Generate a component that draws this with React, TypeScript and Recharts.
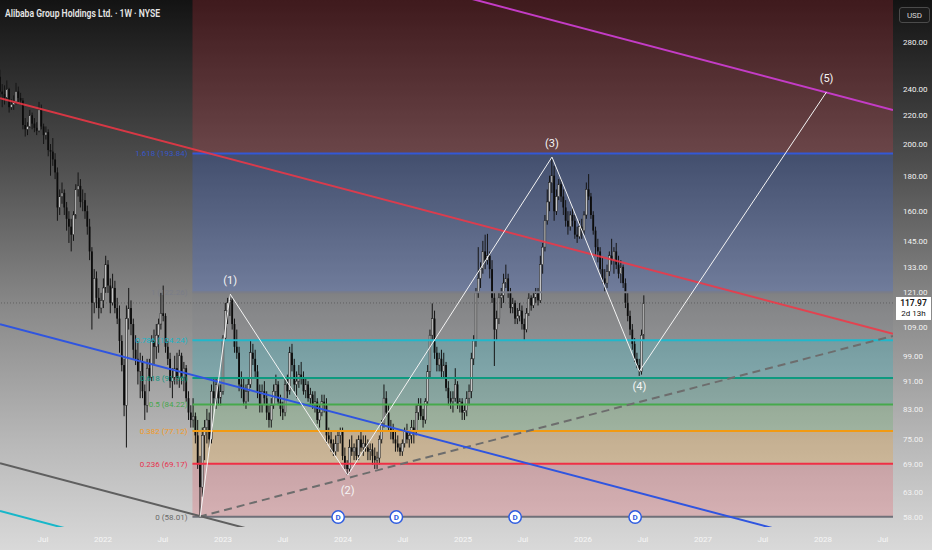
import React from "react";
import {
  ComposedChart,
  Bar,
  XAxis,
  YAxis,
  ReferenceArea,
  ReferenceLine,
  ReferenceDot,
} from "recharts";

// weekly candles, [open, high, low, close], first bar = week of 22 Feb 2021
type Candle = [number, number, number, number];

const firstWeek = 2021.1425;
const weekLength = 7 / 365.25;

const candles2021: Candle[] = [
  [250, 256, 232, 238], [238, 244, 226, 236], [236, 243, 228, 233], [233, 247, 232, 240],
  [240, 241, 222, 226], [226, 232, 224, 228], [228, 235, 224, 230], [230, 245, 228, 238],
  [238, 242, 230, 233], [233, 237, 228, 231], [231, 233, 210, 213], [213, 218, 205, 210],
  [210, 215, 206, 212], [212, 224, 211, 220], [220, 222, 210, 214], [214, 218, 208, 211],
  [211, 215, 206, 209], [209, 230, 208, 224], [224, 228, 210, 212], [212, 214, 200, 206],
  [206, 212, 203, 208], [208, 210, 192, 196], [196, 200, 180, 195], [195, 204, 186, 190],
  [190, 194, 178, 182], [182, 185, 155, 162], [162, 172, 158, 168], [168, 176, 164, 170],
  [170, 172, 158, 162], [162, 165, 150, 156], [156, 160, 144, 152], [152, 156, 140, 148],
  [148, 160, 145, 158], [158, 175, 156, 172], [172, 182, 168, 174], [174, 178, 162, 165],
  [165, 172, 160, 166], [166, 170, 156, 160], [160, 163, 148, 152], [152, 156, 136, 140],
  [140, 142, 108, 118], [118, 132, 114, 128], [128, 131, 116, 120], [120, 124, 112, 116],
  [116, 122, 114, 119],
];

const candles2022: Candle[] = [
  [119, 128, 116, 124], [124, 138, 122, 134], [134, 136, 122, 125], [125, 128, 114, 118],
  [118, 130, 117, 124], [124, 127, 114, 116], [116, 120, 110, 112], [112, 117, 100, 104],
  [104, 106, 94, 96], [96, 98, 81, 84], [84, 117, 73, 112], [112, 124, 108, 116],
  [116, 119, 106, 110], [110, 112, 98, 101], [101, 106, 96, 98], [98, 104, 90, 94],
  [94, 100, 86, 97], [97, 99, 86, 88], [88, 90, 80, 84], [84, 98, 82, 95],
  [95, 98, 88, 92], [92, 106, 91, 104], [104, 108, 96, 102], [102, 110, 98, 106],
  [106, 112, 100, 110], [110, 122, 108, 114], [114, 125, 111, 113], [113, 114, 100, 102],
  [102, 104, 96, 98], [98, 100, 89, 91], [91, 95, 86, 92], [92, 99, 90, 95],
  [95, 100, 90, 92], [92, 101, 89, 99], [99, 100, 90, 92], [92, 97, 88, 95],
  [95, 96, 85, 86], [86, 88, 80, 82], [82, 84, 78, 80], [80, 86, 78, 81],
  [81, 82, 74, 76], [76, 80, 68, 69], [69, 71, 58.01, 64], [64, 78, 62, 76],
  [76, 80, 70, 78], [78, 83, 74, 80], [80, 82, 73, 75], [75, 90, 74, 88],
  [88, 92, 84, 86], [86, 92, 83, 90], [90, 92, 84, 86], [86, 90, 84, 88],
];

const candles2023: Candle[] = [
  [88, 106, 87, 105], [105, 118, 104, 115], [115, 120, 110, 118], [118, 121.5, 113, 119],
  [119, 120, 108, 110], [110, 112, 100, 102], [102, 108, 98, 100], [100, 102, 88, 90],
  [90, 94, 86, 89], [89, 92, 84, 85], [85, 90, 83, 88], [88, 92, 85, 90],
  [90, 104, 89, 100], [100, 103, 96, 98], [98, 101, 92, 94], [94, 96, 86, 88],
  [88, 90, 82, 84], [84, 90, 82, 88], [88, 91, 84, 86], [86, 88, 80, 82],
  [82, 84, 78, 80], [80, 86, 78, 84], [84, 90, 83, 88], [88, 93, 86, 90],
  [90, 91, 84, 85], [85, 87, 81, 83], [83, 85, 80, 82], [82, 92, 81, 90],
  [90, 93, 86, 88], [88, 102, 87, 100], [100, 103, 94, 96], [96, 98, 88, 90],
  [90, 94, 86, 91], [91, 96, 89, 93], [93, 97, 90, 92], [92, 94, 87, 88],
  [88, 92, 86, 90], [90, 91, 85, 86], [86, 89, 84, 87], [87, 88, 83, 84],
  [84, 88, 82, 85], [85, 86, 79, 80], [80, 84, 78, 82], [82, 87, 81, 85],
  [85, 87, 82, 84], [84, 86, 74, 76], [76, 78, 74, 75], [75, 77, 72, 74],
  [74, 75, 71, 72], [72, 76, 71, 74], [74, 77, 72, 76], [76, 78, 74, 77],
];

const candles2024: Candle[] = [
  [77, 78, 70, 71], [71, 73, 68, 69], [69, 70, 66.6, 68], [68, 75, 67, 73],
  [73, 76, 71, 72], [72, 74, 70, 73], [73, 75, 70, 71], [71, 76, 70, 75],
  [75, 77, 72, 73], [73, 76, 71, 74], [74, 76, 72, 73], [73, 75, 70, 72],
  [72, 74, 70, 72.5], [72.5, 74, 69, 71], [71, 73, 68, 70], [70, 72, 68, 70.5],
  [70.5, 76, 69, 75], [75, 80, 74, 79], [79, 90, 78, 86], [86, 88, 81, 82],
  [82, 84, 77, 78], [78, 80, 75, 77], [77, 79, 74, 75], [75, 77, 72, 74],
  [74, 76, 72, 73], [73, 74, 71, 72], [72, 75, 71, 74], [74, 78, 73, 77],
  [77, 79, 74, 75], [75, 77, 73, 76], [76, 80, 74, 78], [78, 80, 74, 77],
  [77, 84, 76, 82], [82, 86, 80, 84], [84, 86, 80, 81], [81, 83, 78, 80],
  [80, 86, 79, 85], [85, 96, 84, 94], [94, 108, 92, 106], [106, 117.8, 104, 112],
  [112, 115, 98, 100], [100, 102, 94, 96], [96, 100, 94, 98], [98, 101, 92, 94],
  [94, 100, 92, 96], [96, 97, 88, 89], [89, 91, 84, 86], [86, 88, 83, 85],
  [85, 88, 82, 86], [86, 95, 85, 90], [90, 91, 83, 84], [84, 86, 82, 85],
];

const candles2025: Candle[] = [
  [85, 86, 80, 82], [82, 84, 80, 82.5], [82.5, 88, 81, 86], [86, 90, 84, 88],
  [88, 100, 86, 98], [98, 106, 96, 104], [104, 124, 102, 122], [122, 142, 120, 128],
  [128, 135, 124, 132], [132, 145, 130, 140], [140, 148, 132, 136], [136, 148.4, 134, 138],
  [138, 140, 128, 132], [132, 136, 118, 120], [120, 122, 95.7, 108], [108, 115, 104, 112],
  [112, 122, 110, 120], [120, 124, 116, 121], [121, 130, 118, 126], [126, 134, 124, 128],
  [128, 130, 120, 122], [122, 124, 114, 116], [116, 120, 114, 118], [118, 119, 110, 112],
  [112, 116, 110, 113], [113, 118, 111, 115], [115, 117, 108, 110], [110, 112, 104, 108],
  [108, 116, 107, 114], [114, 122, 113, 120], [120, 121, 115, 117], [117, 122, 116, 120],
  [120, 124, 118, 122], [122, 124, 117, 119], [119, 138, 118, 134], [134, 144, 130, 142],
  [142, 158, 140, 155], [155, 172, 153, 165], [165, 180, 160, 176], [176, 191.5, 170, 180],
  [180, 186, 155, 160], [160, 172, 158, 168], [168, 178, 166, 175], [175, 178, 165, 168],
  [168, 172, 158, 162], [162, 166, 152, 155], [155, 160, 148, 152], [152, 160, 150, 158],
  [158, 162, 152, 155], [155, 158, 146, 148], [148, 152, 144, 147], [147, 155, 146, 152],
];

const candles2026: Candle[] = [
  [152, 156, 146, 150], [150, 160, 148, 158], [158, 176, 156, 172], [172, 181, 166, 168],
  [168, 170, 156, 158], [158, 160, 148, 150], [150, 152, 138, 142], [142, 146, 135, 140],
  [140, 142, 130, 132], [132, 137, 126, 128], [128, 132, 122, 126], [126, 134, 124, 131],
  [131, 140, 129, 138], [138, 146, 134, 136], [136, 142, 130, 140], [140, 144, 132, 134],
  [134, 138, 128, 130], [130, 136, 126, 133], [133, 134, 124, 126], [126, 128, 116, 118],
  [118, 122, 111, 113], [113, 115, 106, 108], [108, 110, 101, 103], [103, 105, 97, 98],
  [98, 100, 95, 96], [96, 98, 92.6, 94], [94, 108, 93, 106], [106, 121, 104, 117.97],
];

const candles = [
  ...candles2021,
  ...candles2022,
  ...candles2023,
  ...candles2024,
  ...candles2025,
  ...candles2026,
];

// axes
const timeDomain = [2021.142, 2028.584];
const timeTicks = [
  2021.5, 2022, 2022.5, 2023, 2023.5, 2024, 2024.5, 2025, 2025.5, 2026, 2026.5, 2027, 2027.5,
  2028, 2028.5,
];
const priceDomain = [56.07, 322.6];
const priceTicks = [58, 63, 69, 75, 83, 91, 99, 109, 121, 133, 145, 160, 180, 200, 220, 240, 280];

// fib retracement (log), drawn from the Oct 2022 low
const fibStart = 2022.746;
const fibRatios = [0, 0.236, 0.382, 0.5, 0.618, 0.786, 1, 1.618];
const fibPrices = [58.01, 69.17, 77.12, 84.22, 91.96, 104.24, 122.26, 193.84];

// trend / channel lines, [time, price] end points
const redLine = [[2021.142, 232.8], [2028.584, 106.5]];
const blueLine = [[2021.142, 109.9], [2028.584, 50.28]];
const grayLine = [[2021.142, 69.27], [2028.584, 31.69]];
const cyanLine = [[2021.142, 59.12], [2028.584, 27.04]];
const magentaLine = [[2021.142, 489.4], [2028.584, 223.9]];
const dashedLine = [[2022.8, 58.01], [2028.584, 105.75]];

// elliott wave count
const waveTimes = [2022.81, 2023.06, 2024.04, 2025.742, 2026.47, 2028.03];
const wavePrices = [58.01, 121.5, 66.6, 191.5, 94, 237.7];
const waveLabels = ["", "(1)", "(2)", "(3)", "(4)", "(5)"];

const dividendTimes = [2023.96, 2024.445, 2025.435, 2026.435];

const fibColors = ["#787b86", "#f23645", "#ff9800", "#4caf50", "#089981", "#00bcd4", "#787b86", "#2962ff"];
const fibLineColors = ["#6f7079", "#ef2f45", "#f29a12", "#46a94c", "#0e9a80", "#1fb8cc", "#7a7d88", "#3358d6"];
const fibLabelColors = ["#6a6a6a", "#e8324e", "#f39a1e", "#45a84b", "#0d9680", "#19b4c8", "#7a7d88", "#3656c8"];

const lastClose = candles[candles.length - 1][3];

const data = candles.map(([o, h, l, c], i) => ({
  t: firstWeek + i * weekLength,
  wick: [l, h],
  body: [Math.min(o, c), Math.max(o, c)],
  up: c >= o,
}));

function Wick(props: any) {
  const { x, y, width, height } = props;
  if (x == null || Number.isNaN(x)) return null;
  return <rect x={x + width / 2 - 0.5} y={y} width={1} height={Math.max(height, 1)} fill="#151515" />;
}

function Body(props: any) {
  const { x, y, width, height, payload } = props;
  if (x == null || Number.isNaN(x)) return null;
  const up = payload?.up;
  return (
    <rect
      x={x + width / 2 - 0.9}
      y={y}
      width={1.8}
      height={Math.max(height, 1)}
      fill={up ? "#c6c6c6" : "#0c0c0c"}
      stroke={up ? "#1e1e1e" : "none"}
      strokeWidth={0.5}
    />
  );
}

function DividendMark(props: any) {
  const { cx, cy } = props;
  return (
    <g>
      <circle cx={cx} cy={cy} r={6.2} fill="#ffffff" stroke="#2f5de0" strokeWidth={1.5} />
      <text x={cx} y={cy + 3} textAnchor="middle" fontSize={8} fontWeight={700} fill="#2f5de0">
        D
      </text>
    </g>
  );
}

function PriceTag(props: any) {
  const { cx, cy } = props;
  return (
    <g>
      <rect x={cx + 3} y={cy - 6} width={35} height={23} fill="#ffffff" />
      <text x={cx + 20.5} y={cy + 3} textAnchor="middle" fontSize={8.5} fontWeight={600} fill="#131313">
        {lastClose.toFixed(2)}
      </text>
      <text x={cx + 20.5} y={cy + 13.5} textAnchor="middle" fontSize={8} fill="#131313">
        2d 13h
      </text>
    </g>
  );
}

// the 121 label sits just above the live price tag
function PriceTick(props: any) {
  const { x, y, payload } = props;
  const shift = payload.value === 121 ? -3.5 : 0;
  return (
    <text x={x} y={y + shift} dy="0.355em" fill="#f2f2f2" fontSize={8} textAnchor="start">
      {Number(payload.value).toFixed(2)}
    </text>
  );
}

function formatTime(v: number) {
  return Number.isInteger(v) ? String(v) : "Jul";
}

export default function App() {
  const xMax = timeDomain[1];
  return (
    <div
      style={{
        position: "absolute",
        left: 0,
        top: 0,
        width: 932,
        height: 550,
        background: "linear-gradient(to bottom, #131313 0%, #4a4a4a 28%, #878787 55%, #b7b7b7 80%, #d9d9d9 100%)",
        fontFamily: "Roboto, 'Noto Sans', sans-serif",
        overflow: "hidden",
      }}
    >
      <ComposedChart width={932} height={550} data={data} margin={{ top: 0, right: 0, bottom: 0, left: 0 }}>
        <XAxis
          dataKey="t"
          type="number"
          domain={timeDomain}
          allowDataOverflow
          ticks={timeTicks}
          interval={0}
          tickFormatter={formatTime}
          axisLine={false}
          tickLine={false}
          height={23}
          tickMargin={3}
          tick={{ fill: "#f6f6f6", fontSize: 8 }}
        />
        <XAxis xAxisId="wick" dataKey="t" type="number" domain={timeDomain} allowDataOverflow hide />
        <XAxis xAxisId="body" dataKey="t" type="number" domain={timeDomain} allowDataOverflow hide />
        <YAxis
          orientation="right"
          scale="log"
          domain={priceDomain}
          allowDataOverflow
          ticks={priceTicks}
          interval={0}
          width={39}
          axisLine={false}
          tickLine={false}
          tickMargin={4}
          tick={<PriceTick />}
        />

        {/* fib zones */}
        <ReferenceArea
          x1={fibStart}
          x2={xMax}
          y1={fibPrices[fibPrices.length - 1]}
          y2={600}
          fill="#f23645"
          fillOpacity={0.2}
          stroke="none"
          ifOverflow="hidden"
        />
        {fibPrices.slice(1).map((p, k) => (
          <ReferenceArea
            key={"zone" + k}
            x1={fibStart}
            x2={xMax}
            y1={fibPrices[k]}
            y2={p}
            fill={fibColors[k + 1]}
            fillOpacity={0.2}
            stroke="none"
            ifOverflow="hidden"
          />
        ))}

        <ReferenceLine y={lastClose} stroke="#3c3c3c" strokeOpacity={0.5} strokeDasharray="1 2" />

        <Bar dataKey="wick" xAxisId="wick" barSize={2} shape={Wick} isAnimationActive={false} />
        <Bar dataKey="body" xAxisId="body" barSize={2} shape={Body} isAnimationActive={false} />

        {/* fib levels */}
        {fibPrices.map((p, k) => (
          <ReferenceLine
            key={"lvl" + k}
            segment={[
              { x: fibStart, y: p },
              { x: xMax, y: p },
            ]}
            stroke={fibLineColors[k]}
            strokeWidth={2}
            ifOverflow="hidden"
          />
        ))}
        {fibPrices.map((p, k) => (
          <ReferenceDot
            key={"lbl" + k}
            x={fibStart}
            y={p}
            r={0}
            ifOverflow="visible"
            label={{
              value: `${fibRatios[k]} (${p.toFixed(2)})`,
              position: "left",
              offset: 5,
              fill: fibLabelColors[k],
              fontSize: 8,
            }}
          />
        ))}

        {/* channel lines */}
        <ReferenceLine
          segment={[{ x: dashedLine[0][0], y: dashedLine[0][1] }, { x: dashedLine[1][0], y: dashedLine[1][1] }]}
          stroke="#6d6d6d"
          strokeWidth={2}
          strokeDasharray="8 5"
          ifOverflow="hidden"
        />
        <ReferenceLine
          segment={[{ x: redLine[0][0], y: redLine[0][1] }, { x: redLine[1][0], y: redLine[1][1] }]}
          stroke="#f23645"
          strokeOpacity={0.85}
          strokeWidth={2}
          ifOverflow="hidden"
        />
        <ReferenceLine
          segment={[{ x: blueLine[0][0], y: blueLine[0][1] }, { x: blueLine[1][0], y: blueLine[1][1] }]}
          stroke="#2f55e0"
          strokeWidth={2}
          ifOverflow="hidden"
        />
        <ReferenceLine
          segment={[{ x: grayLine[0][0], y: grayLine[0][1] }, { x: grayLine[1][0], y: grayLine[1][1] }]}
          stroke="#5f5f5f"
          strokeWidth={2}
          ifOverflow="hidden"
        />
        <ReferenceLine
          segment={[{ x: cyanLine[0][0], y: cyanLine[0][1] }, { x: cyanLine[1][0], y: cyanLine[1][1] }]}
          stroke="#17b7c9"
          strokeWidth={2}
          ifOverflow="hidden"
        />
        <ReferenceLine
          segment={[{ x: magentaLine[0][0], y: magentaLine[0][1] }, { x: magentaLine[1][0], y: magentaLine[1][1] }]}
          stroke="#c43cc6"
          strokeWidth={2}
          ifOverflow="hidden"
        />

        {/* wave path */}
        {waveTimes.slice(1).map((t, k) => (
          <ReferenceLine
            key={"wave" + k}
            segment={[
              { x: waveTimes[k], y: wavePrices[k] },
              { x: t, y: wavePrices[k + 1] },
            ]}
            stroke="#f4f4f4"
            strokeWidth={1}
            ifOverflow="hidden"
          />
        ))}
        {waveTimes.map((t, k) =>
          waveLabels[k] ? (
            <ReferenceDot
              key={"wl" + k}
              x={t}
              y={wavePrices[k]}
              r={0}
              ifOverflow="visible"
              label={{
                value: waveLabels[k],
                position: k % 2 === 1 ? "top" : "bottom",
                offset: k % 2 === 1 ? 10 : 11,
                fill: "#f5f5f5",
                fontSize: 11,
              }}
            />
          ) : null
        )}

        {dividendTimes.map((t, k) => (
          <ReferenceDot key={"div" + k} x={t} y={57.95} shape={DividendMark} ifOverflow="visible" />
        ))}

        <ReferenceDot x={xMax} y={lastClose} shape={PriceTag} ifOverflow="visible" />
      </ComposedChart>

      <svg width={300} height={24} style={{ position: "absolute", left: 0, top: 0 }}>
        <text x={5} y={16.5} fontSize={10} fontWeight={600} fill="#e6e6e6" textLength={155} lengthAdjust="spacingAndGlyphs">
          Alibaba Group Holdings Ltd. · 1W · NYSE
        </text>
      </svg>
      <div
        style={{
          position: "absolute",
          left: 899,
          top: 7,
          width: 31,
          height: 16,
          boxSizing: "border-box",
          border: "1px solid #4b4b4b",
          borderRadius: 3,
          background: "#1b1b1b",
          color: "#d8d8d8",
          fontSize: 8,
          display: "flex",
          alignItems: "center",
          justifyContent: "center",
        }}
      >
        USD
      </div>
    </div>
  );
}
